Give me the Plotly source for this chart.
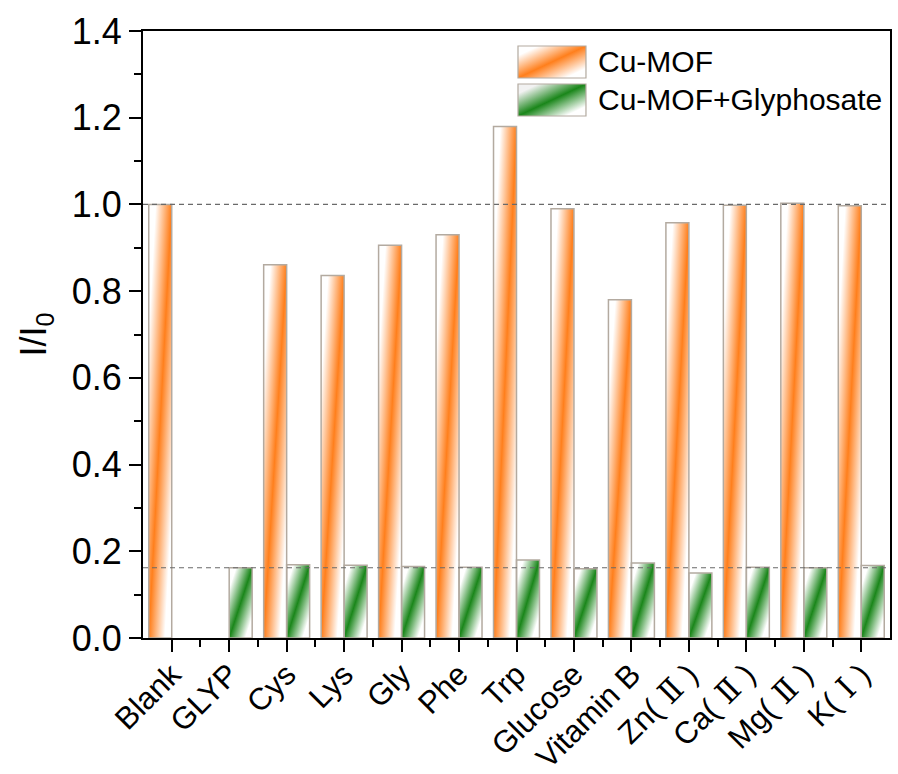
import base64
import plotly.graph_objects as go

# Relative fluorescence intensity (I/I0) for each interferent
NUM_FONT = "font-family:'DejaVu Serif','Liberation Serif',serif"
categories = ["Blank", "GLYP", "Cys", "Lys", "Gly", "Phe", "Trp", "Glucose", "Vitamin B",
              f"Zn(<span style=\"{NUM_FONT}\"> Ⅱ </span>)",
              f"Ca(<span style=\"{NUM_FONT}\"> Ⅱ </span>)",
              f"Mg(<span style=\"{NUM_FONT}\"> Ⅱ </span>)",
              f"K(<span style=\"{NUM_FONT}\"> Ⅰ </span>)"]
cu_mof = [1.000, None, 0.861, 0.836, 0.906, 0.930, 1.180, 0.990,
          0.780, 0.958, 0.998, 1.003, 0.997]
cu_mof_glyp = [None, 0.162, 0.169, 0.168, 0.165, 0.163, 0.180, 0.160,
               0.173, 0.150, 0.163, 0.162, 0.167]
series_names = ["Cu-MOF", "Cu-MOF+Glyphosate"]

ORANGE = "#ff7f1c"
GREEN = "#1a861a"
EDGE = "#b3aaa0"
FONT = "Liberation Sans, Arial, Noto Sans CJK SC, sans-serif"

BAR_W = 0.4  # width of a single bar in category units


def diagonal_fill(color, light="#ffffff"):
    """Corner-to-corner gradient: pale top-left, colour band, pale bottom-right."""
    stops = [(0, light), (0.15, light), (0.5, color), (0.85, "#ffffff"), (1, "#ffffff")]
    stop_xml = "".join(f'<stop offset="{o}" stop-color="{c}"/>' for o, c in stops)
    svg = ('<svg xmlns="http://www.w3.org/2000/svg" width="100" height="100" '
           'viewBox="0 0 100 100" preserveAspectRatio="none"><defs>'
           f'<linearGradient id="g" x1="0" y1="0" x2="1" y2="1">{stop_xml}</linearGradient>'
           '</defs><rect width="100" height="100" fill="url(#g)"/></svg>')
    return "data:image/svg+xml;base64," + base64.b64encode(svg.encode()).decode()


orange_fill = diagonal_fill(ORANGE)
green_fill = diagonal_fill(GREEN)
green_key_fill = diagonal_fill(GREEN, light="#f2f2f2")

x_pos = list(range(len(categories)))

fig = go.Figure()
for name, vals in zip(series_names, [cu_mof, cu_mof_glyp]):
    fig.add_trace(go.Bar(
        x=x_pos, y=vals, name=name, showlegend=False,
        marker=dict(color="rgba(0,0,0,0)", line=dict(color=EDGE, width=1.5)),
    ))

# gradient fills placed under the bar outlines, sized from the same values
images = []
for vals, src, shift in [(cu_mof, orange_fill, -BAR_W), (cu_mof_glyp, green_fill, 0.0)]:
    for i, v in enumerate(vals):
        if v is not None:
            images.append(dict(source=src, xref="x", yref="y",
                               x=i + shift, y=v, sizex=BAR_W, sizey=v,
                               xanchor="left", yanchor="top", sizing="stretch", layer="below"))

# legend keys
key_x0, key_w, key_h = 0.502, 0.091, 0.0527
key_tops = [0.9753, 0.9127]
shapes = []
annotations = []
for top, src, name in zip(key_tops, [orange_fill, green_key_fill], series_names):
    images.append(dict(source=src, xref="paper", yref="paper", x=key_x0, y=top,
                       sizex=key_w, sizey=key_h, xanchor="left", yanchor="top",
                       sizing="stretch", layer="above"))
    shapes.append(dict(type="rect", xref="paper", yref="paper", x0=key_x0, x1=key_x0 + key_w,
                       y0=top - key_h, y1=top, line=dict(color=EDGE, width=1.2),
                       fillcolor="rgba(0,0,0,0)", layer="above"))
    annotations.append(dict(text=name, xref="paper", yref="paper", x=0.6064,
                            y=top - key_h / 2, xanchor="left", yanchor="middle",
                            showarrow=False, font=dict(family=FONT, size=30, color="black")))

# reference levels: blank response and glyphosate-quenched response
for level in [cu_mof[0], cu_mof_glyp[1]]:
    shapes.append(dict(type="line", xref="paper", yref="y", x0=0, x1=1, y0=level, y1=level,
                       line=dict(color="#6a6a6a", width=1.2, dash="5px,4px"), layer="above"))

fig.update_layout(
    width=898, height=774,
    margin=dict(l=143, r=8, t=31, b=136),
    paper_bgcolor="white", plot_bgcolor="white",
    barmode="group", bargap=0.2, bargroupgap=0,
    images=images, shapes=shapes, annotations=annotations,
    font=dict(family=FONT, color="black"),
)
fig.update_xaxes(
    automargin=False,
    range=[-0.5, len(categories) - 0.5],
    tickmode="array", tickvals=x_pos, ticktext=categories, tickangle=-45,
    tickfont=dict(size=31), ticklabelstandoff=-8,
    ticks="outside", ticklen=12, tickwidth=2, tickcolor="black",
    minor=dict(tickmode="array", tickvals=[i + 0.5 for i in x_pos[:-1]],
               ticks="outside", ticklen=7, tickwidth=2, tickcolor="black"),
    showline=True, linewidth=2, linecolor="black", mirror=True,
    showgrid=False, zeroline=False,
)
fig.update_yaxes(
    automargin=False,
    range=[0, 1.4], dtick=0.2, tick0=0, tickformat=".1f",
    tickfont=dict(size=36), ticks="outside", ticklen=12, tickwidth=2, tickcolor="black",
    minor=dict(dtick=0.1, ticks="outside", ticklen=7, tickwidth=2, tickcolor="black"),
    showline=True, linewidth=2, linecolor="black", mirror=True,
    showgrid=False, zeroline=False,
    title=dict(text="I/I<sub>0</sub>", font=dict(size=36), standoff=14),
)

fig.write_html("out.html")
